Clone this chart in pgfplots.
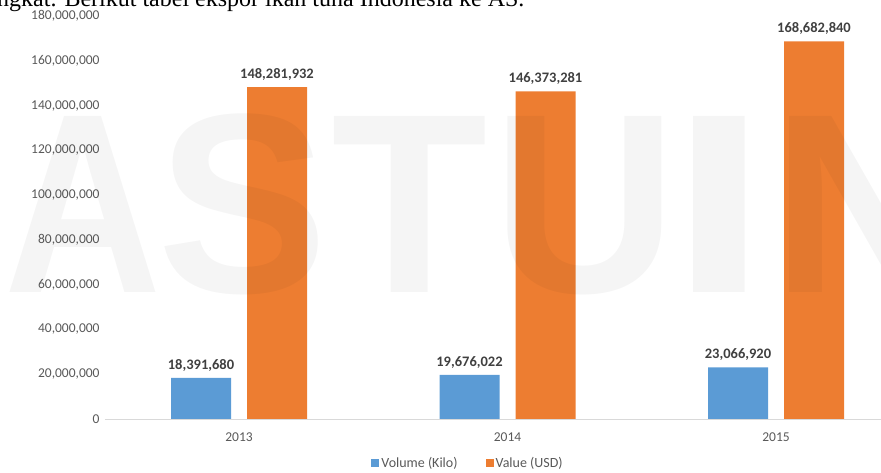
\documentclass[border=0pt]{standalone}
\usepackage{pgfplots}
\pgfplotsset{compat=1.18}
\usepackage{fontspec}
\setmainfont{Carlito}
\newfontfamily\headserif{Liberation Serif}
\newfontfamily\wmfont{Liberation Sans}
\definecolor{xblue}{HTML}{5B9BD5}
\definecolor{xorange}{HTML}{ED7D31}
\definecolor{lbl}{HTML}{595959}
\definecolor{dlbl}{HTML}{404040}
\definecolor{axl}{HTML}{D9D9D9}
\pgfplotsset{sqlegend/.style={legend image code/.code={\fill[##1,draw=none] (0pt,-4pt) rectangle (8pt,4pt);}}}
\begin{document}
\begin{tikzpicture}[x=1pt,y=1pt]
\useasboundingbox (0,0) rectangle (881,472);
\begin{scope}
\clip (0,0) rectangle (881,472);
\begin{axis}[
  at={(104.75pt,53pt)}, anchor=south west,
  scale only axis, width=805.5pt, height=403pt,
  xmin=-0.5, xmax=2.5, ymin=0, ymax=180000000,
  ybar=16pt, bar width=60pt,
  axis line style={draw=none},
  xtick={0,1,2}, xticklabels={2013,2014,2015},
  ytick={0,20000000,40000000,60000000,80000000,100000000,120000000,140000000,160000000,180000000},
  major tick length=0pt,
  scaled y ticks=false,
  yticklabel style={/pgf/number format/fixed, /pgf/number format/1000 sep={,}, /pgf/number format/assume math mode=true,
    font=\fontsize{13.5}{15}\selectfont, text=lbl, inner sep=5pt},
  xticklabel style={font=\fontsize{13.5}{15}\selectfont, text=lbl, yshift=-10pt},
  clip=false,
  legend style={at={(0.451,-0.109)}, anchor=center, draw=none, fill=none,
    legend columns=2, font=\fontsize{14}{16}\selectfont, text=lbl,
    /tikz/every even column/.append style={column sep=26pt}},
  nodes near coords,
  every node near coord/.append style={font=\bfseries\fontsize{14.5}{16}\selectfont, text=dlbl, yshift=3pt},
]
\addplot[fill=xblue, draw=none, sqlegend, point meta=explicit symbolic] table[x=x,y=y,meta=l] {
x y l
0 18391680 18,391,680
1 19676022 19,676,022
2 23066920 23,066,920
};
\addplot[fill=xorange, draw=none, sqlegend, point meta=explicit symbolic] table[x=x,y=y,meta=l] {
x y l
0 148281932 148,281,932
1 146373281 146,373,281
2 168682840 168,682,840
};
\legend{Volume (Kilo), Value (USD)}
\draw[axl, line width=0.8pt] (axis cs:-0.5,0) -- (axis cs:2.5,0);
\end{axis}
\node[anchor=base west, inner sep=0, font=\headserif\fontsize{24}{24}\selectfont] at (-3,465) {ngkat. Berikut tabel ekspor ikan tuna Indonesia ke AS.};
\begin{scope}[every node/.style={anchor=base, inner sep=0, text=black, text opacity=0.04, font=\wmfont\bfseries\fontsize{256}{256}\selectfont}]
\node[xscale=0.85] at (83,180) {A};
\node at (243,180) {S};
\node at (410,180) {T};
\node at (585,180) {U};
\node[xscale=1.4] at (719,180) {I};
\node at (865,180) {N};
\end{scope}
\end{scope}
\end{tikzpicture}
\end{document}
